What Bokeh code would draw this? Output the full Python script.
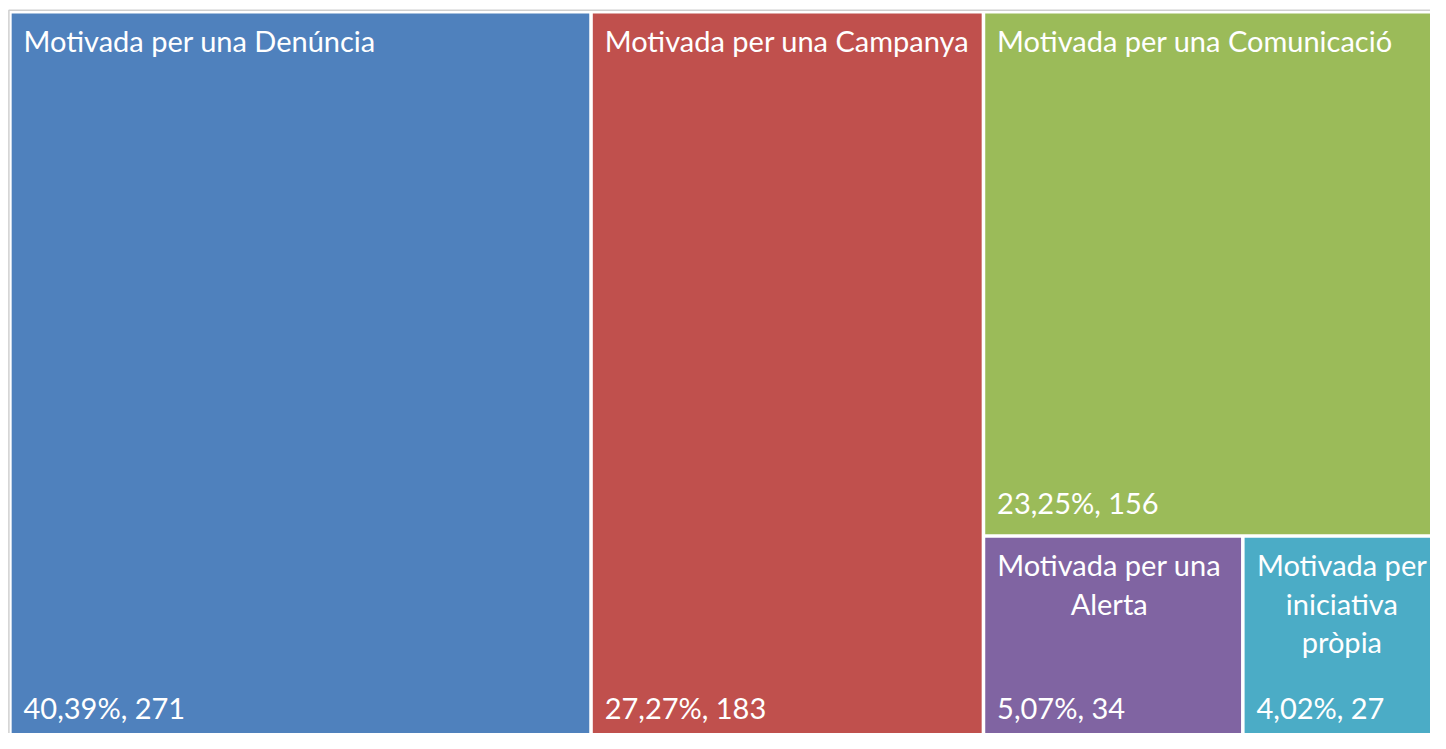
from bokeh.plotting import figure
from bokeh.models import Range1d, ColumnDataSource
from bokeh.core.properties import value
from bokeh.embed import file_html
from bokeh.resources import INLINE

# ---- data ----
categories = ["Motivada per una Denúncia", "Motivada per una Campanya",
              "Motivada per una Comunicació", "Motivada per una Alerta",
              "Motivada per iniciativa pròpia"]
counts = [271, 183, 156, 34, 27]
percent_labels = ["40,39%", "27,27%", "23,25%", "5,07%", "4,02%"]
label_lines = [["Motivada per una Denúncia"],
               ["Motivada per una Campanya"],
               ["Motivada per una Comunicació"],
               ["Motivada per una", "Alerta"],
               ["Motivada per", "iniciativa", "pròpia"]]
colors = ["#4F81BD", "#C0504D", "#9BBB59", "#8064A2", "#4BACC6"]

# ---- layout (reference-picture pixel coordinates) ----
PW, PH = 1430, 733
VW, VH = 1446, 749
X0, Y0, W, H = 9.5, 11.5, 1455.0, 745.0
GAP = 3.6
FONT = "Lato"
FS = "29px"

total = float(sum(counts))
w0 = W * counts[0] / total
w1 = W * counts[1] / total
w2 = W - w0 - w1
rest = float(counts[2] + counts[3] + counts[4])
h2 = H * counts[2] / rest
w3 = w2 * counts[3] / (counts[3] + counts[4])

cells = [
    (X0, X0 + w0, Y0, Y0 + H),
    (X0 + w0, X0 + w0 + w1, Y0, Y0 + H),
    (X0 + w0 + w1, X0 + W, Y0, Y0 + h2),
    (X0 + w0 + w1, X0 + w0 + w1 + w3, Y0 + h2, Y0 + H),
    (X0 + w0 + w1 + w3, X0 + W, Y0 + h2, Y0 + H),
]
left = [c[0] + GAP / 2 for c in cells]
right = [c[1] - GAP / 2 for c in cells]
top = [c[2] + GAP / 2 for c in cells]
bottom = [c[3] - GAP / 2 for c in cells]

p = figure(width=PW, height=PH, output_backend="svg", toolbar_location=None,
           x_range=Range1d(0, VW), y_range=Range1d(VH, 0),
           x_axis_type=None, y_axis_type=None, min_border=0,
           outline_line_color=None, background_fill_color="white",
           border_fill_color="white")
p.grid.visible = False

src = ColumnDataSource(dict(left=left, right=right, top=top, bottom=bottom,
                            color=colors, cat=categories, n=counts))
p.quad(left="left", right="right", top="top", bottom="bottom",
       fill_color="color", line_color=None, source=src)

# outer light gray border (top and left visible)
p.line(x=[8.5, 8.5, VW + 40], y=[VH + 40, 10, 10],
       line_color="#cfcfcf", line_width=1.5)

# title labels
tx, ty, tt, ta = [], [], [], []
for i, lines in enumerate(label_lines):
    for j, ln in enumerate(lines):
        if len(lines) > 1:
            x = (left[i] + right[i]) / 2 - 4
            a = "center"
        else:
            x = left[i] + 12
            a = "left"
        tx.append(x)
        ty.append(top[i] + 27.5 + j * 39.5)
        tt.append(ln)
        ta.append(a)
tsrc = ColumnDataSource(dict(x=tx, y=ty, t=tt, a=ta))
p.text(x="x", y="y", text="t", text_align="a", text_baseline="middle",
       text_color="white", text_font=value(FONT), text_font_size=FS,
       source=tsrc)

# value labels
vx = [left[i] + 12 for i in range(len(counts))]
vy = [bottom[i] - 32 for i in range(len(counts))]
vt = [f"{percent_labels[i]}, {counts[i]}" for i in range(len(counts))]
vsrc = ColumnDataSource(dict(x=vx, y=vy, t=vt))
p.text(x="x", y="y", text="t", text_align="left", text_baseline="middle",
       text_color="white", text_font=value(FONT), text_font_size=FS,
       source=vsrc)

open("out.html", "w").write(file_html(p, INLINE))
